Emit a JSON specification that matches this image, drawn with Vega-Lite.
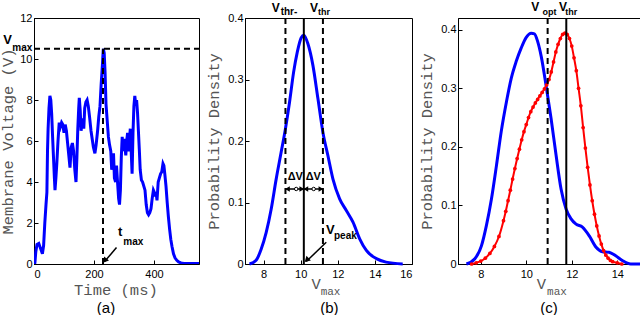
{
  "$schema": "https://vega.github.io/schema/vega-lite/v6.json",
  "padding": {"left": 0, "top": 0, "right": 0, "bottom": 0},
  "bounds": "flush",
  "spacing": 46,
  "config": {
    "view": {"stroke": "#000", "strokeWidth": 1},
    "axis": {"grid": false, "tickSize": -4, "tickColor": "#000", "domainColor": "#000", "labelFont": "Liberation Sans", "labelFontSize": 11, "labelColor": "#000", "titleFont": "Liberation Mono", "titleFontSize": 15.5, "titleFontWeight": "normal", "titleColor": "#555", "labelPadding": 6, "format": "~g"},
    "axisX": {"labelPadding": 8},
    "text": {"font": "Liberation Sans", "color": "#000"}
  },
  "hconcat": [
    {
      "width": 165, "height": 246,
      "data": {"values": [{}]},
      "layer": [
        {
          "data": {"values": [
            {"t":0,"v":0},{"t":3,"v":0.05},{"t":6,"v":0.6},{"t":10,"v":0.95},{"t":16,"v":1.0},{"t":22,"v":0.75},{"t":28,"v":0.5},{"t":32,"v":0.9},{"t":36,"v":2.0},{"t":40,"v":2.9},{"t":43,"v":3.5},{"t":45,"v":5.5},{"t":47,"v":6.6},{"t":50,"v":7.6},{"t":53,"v":8.2},{"t":56,"v":8.0},{"t":59,"v":7.3},{"t":62,"v":6.2},{"t":65,"v":5.2},{"t":68,"v":4.2},{"t":70,"v":3.6},{"t":73,"v":4.2},{"t":76,"v":4.9},{"t":80,"v":6.0},{"t":84,"v":6.9},{"t":88,"v":6.7},{"t":92,"v":6.9},{"t":96,"v":6.8},{"t":100,"v":6.4},{"t":104,"v":6.8},{"t":108,"v":6.5},{"t":112,"v":5.9},{"t":116,"v":5.3},{"t":120,"v":4.7},{"t":124,"v":5.7},{"t":128,"v":5.9},{"t":132,"v":5.5},{"t":136,"v":4.6},{"t":140,"v":4.0},{"t":143,"v":5.2},{"t":146,"v":6.6},{"t":149,"v":7.6},{"t":151,"v":8.1},{"t":154,"v":7.5},{"t":157,"v":6.5},{"t":160,"v":6.9},{"t":163,"v":7.1},{"t":166,"v":6.6},{"t":169,"v":7.6},{"t":173,"v":7.9},{"t":177,"v":8.0},{"t":181,"v":7.7},{"t":185,"v":7.2},{"t":190,"v":6.5},{"t":194,"v":6.1},{"t":198,"v":5.7},{"t":203,"v":5.4},{"t":207,"v":5.8},{"t":212,"v":6.5},{"t":216,"v":7.2},{"t":220,"v":7.7},{"t":224,"v":8.8},{"t":228,"v":9.7},{"t":231,"v":10.5},{"t":234,"v":10.3},{"t":237,"v":9.3},{"t":240,"v":7.8},{"t":244,"v":7.0},{"t":248,"v":6.2},{"t":252,"v":5.8},{"t":256,"v":5.5},{"t":259,"v":4.6},{"t":262,"v":4.9},{"t":265,"v":5.4},{"t":268,"v":4.2},{"t":272,"v":4.0},{"t":275,"v":4.8},{"t":278,"v":4.1},{"t":282,"v":3.2},{"t":285,"v":2.9},{"t":288,"v":3.6},{"t":291,"v":5.2},{"t":294,"v":6.2},{"t":297,"v":5.5},{"t":300,"v":6.1},{"t":303,"v":5.7},{"t":306,"v":5.3},{"t":309,"v":6.0},{"t":312,"v":6.4},{"t":315,"v":5.5},{"t":318,"v":6.0},{"t":321,"v":6.6},{"t":324,"v":5.5},{"t":327,"v":4.4},{"t":330,"v":6.4},{"t":333,"v":7.7},{"t":336,"v":8.2},{"t":339,"v":7.8},{"t":342,"v":8.0},{"t":345,"v":7.4},{"t":348,"v":6.5},{"t":351,"v":5.6},{"t":354,"v":4.6},{"t":358,"v":4.1},{"t":362,"v":4.0},{"t":366,"v":3.8},{"t":370,"v":3.6},{"t":374,"v":2.9},{"t":378,"v":2.5},{"t":382,"v":2.4},{"t":386,"v":2.5},{"t":390,"v":2.7},{"t":394,"v":3.2},{"t":398,"v":3.6},{"t":401,"v":3.5},{"t":404,"v":3.3},{"t":407,"v":3.5},{"t":410,"v":3.1},{"t":414,"v":4.0},{"t":418,"v":4.2},{"t":422,"v":4.4},{"t":426,"v":4.5},{"t":430,"v":4.9},{"t":433,"v":4.8},{"t":436,"v":4.4},{"t":440,"v":3.8},{"t":444,"v":3.0},{"t":448,"v":2.3},{"t":452,"v":1.7},{"t":456,"v":1.2},{"t":460,"v":0.85},{"t":465,"v":0.5},{"t":470,"v":0.3},{"t":476,"v":0.18},{"t":482,"v":0.1},{"t":490,"v":0.05},{"t":500,"v":0.03},{"t":520,"v":0.02},{"t":550,"v":0.02}
          ]},
          "mark": {"type": "line", "color": "#0000ff", "strokeWidth": 3, "clip": true},
          "encoding": {
            "x": {"field": "t", "type": "quantitative", "scale": {"domain": [0, 550], "nice": false}, "axis": {"values": [0, 200, 400], "format": "d", "title": null}},
            "y": {"field": "v", "type": "quantitative", "scale": {"domain": [0, 12], "nice": false}, "axis": {"values": [0, 2, 4, 6, 8, 10, 12], "format": "d", "title": "Membrane Voltage (V)", "titlePadding": 4}}
          }
        },
        {"mark": {"type": "rule", "strokeDash": [6, 4], "strokeWidth": 2, "color": "#000"}, "encoding": {"x": {"datum": 0}, "x2": {"datum": 550}, "y": {"datum": 10.5}}},
        {"mark": {"type": "rule", "strokeDash": [6, 4], "strokeWidth": 2, "color": "#000"}, "encoding": {"x": {"datum": 230}, "y": {"datum": 0}, "y2": {"datum": 10.5}}},
        {"mark": {"type": "rule", "strokeWidth": 1.5, "color": "#000"}, "encoding": {"x": {"datum": 275}, "y": {"datum": 0.8}, "x2": {"datum": 236}, "y2": {"datum": 0.13}}},
        {"mark": {"type": "point", "shape": "triangle", "angle": 220, "filled": true, "color": "#000", "size": 40, "opacity": 1}, "encoding": {"x": {"datum": 238}, "y": {"datum": 0.2}}},
        {"mark": {"type": "text", "text": "t", "fontSize": 13, "fontWeight": "bold"}, "encoding": {"x": {"datum": 287}, "y": {"datum": 1.55}}},
        {"mark": {"type": "text", "text": "max", "fontSize": 10, "fontWeight": "bold"}, "encoding": {"x": {"datum": 331}, "y": {"datum": 1.07}}},
        {"mark": {"type": "text", "text": "V", "fontSize": 13, "fontWeight": "bold"}, "encoding": {"x": {"datum": -87.7}, "y": {"datum": 10.93}}},
        {"mark": {"type": "text", "text": "max", "fontSize": 10, "fontWeight": "bold"}, "encoding": {"x": {"datum": -39}, "y": {"datum": 10.54}}},
        {"mark": {"type": "text", "text": "Time (ms)", "font": "Liberation Mono", "fontSize": 15.5, "color": "#555", "dy": 26}, "encoding": {"x": {"datum": 273}, "y": {"datum": 0}}},
        {"mark": {"type": "text", "text": "(a)", "fontSize": 15, "dy": 44}, "encoding": {"x": {"datum": 240}, "y": {"datum": 0}}}
      ]
    },
    {
      "width": 167, "height": 246,
      "data": {"values": [{}]},
      "layer": [
        {
          "data": {"values": [
            {"x":7.24,"d":0},{"x":7.6,"d":0.006},{"x":7.87,"d":0.024},{"x":8.14,"d":0.051},{"x":8.41,"d":0.089},{"x":8.68,"d":0.138},{"x":8.95,"d":0.182},{"x":9.18,"d":0.22},{"x":9.4,"d":0.263},{"x":9.62,"d":0.312},{"x":9.82,"d":0.345},{"x":10.03,"d":0.368},{"x":10.17,"d":0.372},{"x":10.39,"d":0.358},{"x":10.66,"d":0.323},{"x":10.93,"d":0.269},{"x":11.2,"d":0.214},{"x":11.47,"d":0.176},{"x":11.74,"d":0.138},{"x":12.1,"d":0.106},{"x":12.46,"d":0.087},{"x":12.82,"d":0.068},{"x":13.18,"d":0.041},{"x":13.54,"d":0.022},{"x":14.08,"d":0.0087},{"x":14.6,"d":0.003},{"x":15.5,"d":0}
          ]},
          "mark": {"type": "line", "color": "#0000ff", "strokeWidth": 3, "interpolate": "monotone"},
          "encoding": {
            "x": {"field": "x", "type": "quantitative", "scale": {"domain": [7, 16], "nice": false}, "axis": {"values": [8, 10, 12, 14, 16], "title": null}},
            "y": {"field": "d", "type": "quantitative", "scale": {"domain": [0, 0.4], "nice": false}, "axis": {"values": [0, 0.05, 0.1, 0.15, 0.2, 0.25, 0.3, 0.35, 0.4], "title": "Probability Density", "titlePadding": 6}}
          }
        },
        {"mark": {"type": "rule", "strokeDash": [6, 4], "strokeWidth": 2, "color": "#000"}, "encoding": {"x": {"datum": 9.18}}},
        {"mark": {"type": "rule", "strokeDash": [6, 4], "strokeWidth": 2, "color": "#000"}, "encoding": {"x": {"datum": 11.2}}},
        {"mark": {"type": "rule", "strokeWidth": 2, "color": "#000"}, "encoding": {"x": {"datum": 10.17}}},
        {"mark": {"type": "rule", "strokeWidth": 1.5, "color": "#000"}, "encoding": {"x": {"datum": 9.18}, "x2": {"datum": 11.2}, "y": {"datum": 0.122}}},
        {"mark": {"type": "point", "shape": "triangle", "angle": 270, "filled": true, "color": "#000", "size": 30, "opacity": 1}, "encoding": {"x": {"datum": 9.33}, "y": {"datum": 0.122}}},
        {"mark": {"type": "point", "shape": "triangle", "angle": 90, "filled": true, "color": "#000", "size": 30, "opacity": 1}, "encoding": {"x": {"datum": 10.02}, "y": {"datum": 0.122}}},
        {"mark": {"type": "point", "shape": "triangle", "angle": 270, "filled": true, "color": "#000", "size": 30, "opacity": 1}, "encoding": {"x": {"datum": 10.32}, "y": {"datum": 0.122}}},
        {"mark": {"type": "point", "shape": "triangle", "angle": 90, "filled": true, "color": "#000", "size": 30, "opacity": 1}, "encoding": {"x": {"datum": 11.05}, "y": {"datum": 0.122}}},
        {"mark": {"type": "point", "shape": "circle", "filled": true, "fill": "#fff", "stroke": "#000", "strokeWidth": 1, "size": 12, "opacity": 1}, "encoding": {"x": {"datum": 9.76}, "y": {"datum": 0.122}}},
        {"mark": {"type": "point", "shape": "circle", "filled": true, "fill": "#fff", "stroke": "#000", "strokeWidth": 1, "size": 12, "opacity": 1}, "encoding": {"x": {"datum": 10.7}, "y": {"datum": 0.122}}},
        {"mark": {"type": "text", "text": "ΔV", "fontSize": 11, "fontWeight": "bold"}, "encoding": {"x": {"datum": 9.71}, "y": {"datum": 0.141}}},
        {"mark": {"type": "text", "text": "ΔV", "fontSize": 11, "fontWeight": "bold"}, "encoding": {"x": {"datum": 10.68}, "y": {"datum": 0.141}}},
        {"mark": {"type": "rule", "strokeWidth": 1.5, "color": "#000"}, "encoding": {"x": {"datum": 11.38}, "y": {"datum": 0.0353}, "x2": {"datum": 10.3}, "y2": {"datum": 0.004}}},
        {"mark": {"type": "point", "shape": "triangle", "angle": 226, "filled": true, "color": "#000", "size": 40, "opacity": 1}, "encoding": {"x": {"datum": 10.36}, "y": {"datum": 0.0075}}},
        {"mark": {"type": "text", "text": "V", "fontSize": 13, "fontWeight": "bold"}, "encoding": {"x": {"datum": 11.6}, "y": {"datum": 0.0557}}},
        {"mark": {"type": "text", "text": "peak", "fontSize": 10, "fontWeight": "bold"}, "encoding": {"x": {"datum": 12.41}, "y": {"datum": 0.0456}}},
        {"mark": {"type": "text", "text": "V", "fontSize": 12, "fontWeight": "bold"}, "encoding": {"x": {"datum": 8.66}, "y": {"datum": 0.4168}}},
        {"mark": {"type": "text", "text": "thr-", "fontSize": 10, "fontWeight": "bold"}, "encoding": {"x": {"datum": 9.37}, "y": {"datum": 0.41}}},
        {"mark": {"type": "text", "text": "V", "fontSize": 12, "fontWeight": "bold"}, "encoding": {"x": {"datum": 10.72}, "y": {"datum": 0.4168}}},
        {"mark": {"type": "text", "text": "thr", "fontSize": 9, "fontWeight": "bold"}, "encoding": {"x": {"datum": 11.26}, "y": {"datum": 0.41}}},
        {"mark": {"type": "text", "text": "V", "font": "Liberation Mono", "fontSize": 15.5, "color": "#555", "dy": 20}, "encoding": {"x": {"datum": 10.83}, "y": {"datum": 0}}},
        {"mark": {"type": "text", "text": "max", "font": "Liberation Mono", "fontSize": 11, "color": "#555", "dy": 27.5}, "encoding": {"x": {"datum": 11.61}, "y": {"datum": 0}}},
        {"mark": {"type": "text", "text": "(b)", "fontSize": 15, "dy": 44}, "encoding": {"x": {"datum": 11.55}, "y": {"datum": 0}}}
      ]
    },
    {
      "width": 182, "height": 246,
      "data": {"values": [{}]},
      "layer": [
        {
          "data": {"values": [
            {"x":7.37,"d":0},{"x":7.74,"d":0.009},{"x":8.03,"d":0.031},{"x":8.25,"d":0.066},{"x":8.47,"d":0.111},{"x":8.69,"d":0.168},{"x":8.9,"d":0.226},{"x":9.13,"d":0.277},{"x":9.34,"d":0.317},{"x":9.56,"d":0.346},{"x":9.78,"d":0.369},{"x":10.0,"d":0.387},{"x":10.22,"d":0.394},{"x":10.36,"d":0.393},{"x":10.5,"d":0.38},{"x":10.66,"d":0.354},{"x":10.87,"d":0.305},{"x":11.09,"d":0.249},{"x":11.31,"d":0.186},{"x":11.53,"d":0.128},{"x":11.75,"d":0.094},{"x":11.97,"d":0.077},{"x":12.19,"d":0.068},{"x":12.47,"d":0.063},{"x":12.77,"d":0.048},{"x":13.06,"d":0.029},{"x":13.35,"d":0.021},{"x":13.64,"d":0.02},{"x":13.93,"d":0.014},{"x":14.22,"d":0.006},{"x":14.59,"d":0},{"x":15,"d":0}
          ]},
          "mark": {"type": "line", "color": "#0000ff", "strokeWidth": 3, "interpolate": "monotone"},
          "encoding": {
            "x": {"field": "x", "type": "quantitative", "scale": {"domain": [7, 15], "nice": false}, "axis": {"values": [8, 10, 12, 14], "title": null}},
            "y": {"field": "d", "type": "quantitative", "scale": {"domain": [0, 0.42], "nice": false}, "axis": {"values": [0, 0.05, 0.1, 0.15, 0.2, 0.25, 0.3, 0.35, 0.4], "title": "Probability Density", "titlePadding": 6}}
          }
        },
        {
          "data": {"values": [
            {"x":7.6,"d":0},{"x":7.8,"d":0.002},{"x":8.0,"d":0.005},{"x":8.2,"d":0.01},{"x":8.4,"d":0.018},{"x":8.6,"d":0.03},{"x":8.8,"d":0.047},{"x":9.0,"d":0.074},{"x":9.1,"d":0.09},{"x":9.2,"d":0.108},{"x":9.3,"d":0.126},{"x":9.4,"d":0.145},{"x":9.5,"d":0.163},{"x":9.6,"d":0.18},{"x":9.7,"d":0.196},{"x":9.8,"d":0.212},{"x":9.9,"d":0.226},{"x":10.0,"d":0.238},{"x":10.1,"d":0.25},{"x":10.2,"d":0.26},{"x":10.3,"d":0.268},{"x":10.4,"d":0.275},{"x":10.5,"d":0.281},{"x":10.6,"d":0.287},{"x":10.7,"d":0.293},{"x":10.8,"d":0.299},{"x":10.9,"d":0.306},{"x":11.0,"d":0.315},{"x":11.1,"d":0.328},{"x":11.2,"d":0.345},{"x":11.3,"d":0.362},{"x":11.4,"d":0.375},{"x":11.5,"d":0.385},{"x":11.6,"d":0.392},{"x":11.7,"d":0.394},{"x":11.8,"d":0.392},{"x":11.9,"d":0.385},{"x":12.0,"d":0.372},{"x":12.1,"d":0.352},{"x":12.2,"d":0.33},{"x":12.3,"d":0.3},{"x":12.4,"d":0.27},{"x":12.5,"d":0.233},{"x":12.6,"d":0.198},{"x":12.7,"d":0.165},{"x":12.8,"d":0.135},{"x":12.9,"d":0.108},{"x":13.0,"d":0.085},{"x":13.1,"d":0.065},{"x":13.2,"d":0.048},{"x":13.3,"d":0.034},{"x":13.4,"d":0.023},{"x":13.5,"d":0.015},{"x":13.6,"d":0.01},{"x":13.7,"d":0.006},{"x":13.8,"d":0.004},{"x":14.0,"d":0.002},{"x":14.2,"d":0}
          ]},
          "mark": {"type": "line", "color": "#ff0000", "strokeWidth": 2, "interpolate": "monotone", "point": {"filled": true, "color": "#ff0000", "size": 14, "opacity": 1}},
          "encoding": {
            "x": {"field": "x", "type": "quantitative"},
            "y": {"field": "d", "type": "quantitative"}
          }
        },
        {"mark": {"type": "rule", "strokeDash": [6, 4], "strokeWidth": 2, "color": "#000"}, "encoding": {"x": {"datum": 10.94}}},
        {"mark": {"type": "rule", "strokeWidth": 2, "color": "#000"}, "encoding": {"x": {"datum": 11.76}}},
        {"mark": {"type": "text", "text": "V", "fontSize": 12, "fontWeight": "bold"}, "encoding": {"x": {"datum": 10.4}, "y": {"datum": 0.4396}}},
        {"mark": {"type": "text", "text": "opt", "fontSize": 9, "fontWeight": "bold"}, "encoding": {"x": {"datum": 11.02}, "y": {"datum": 0.4297}}},
        {"mark": {"type": "text", "text": "V", "fontSize": 12, "fontWeight": "bold"}, "encoding": {"x": {"datum": 11.62}, "y": {"datum": 0.4396}}},
        {"mark": {"type": "text", "text": "thr", "fontSize": 9, "fontWeight": "bold"}, "encoding": {"x": {"datum": 11.98}, "y": {"datum": 0.4297}}},
        {"mark": {"type": "text", "text": "V", "font": "Liberation Mono", "fontSize": 15.5, "color": "#555", "dy": 20}, "encoding": {"x": {"datum": 10.67}, "y": {"datum": 0}}},
        {"mark": {"type": "text", "text": "max", "font": "Liberation Mono", "fontSize": 11, "color": "#555", "dy": 27.5}, "encoding": {"x": {"datum": 11.35}, "y": {"datum": 0}}},
        {"mark": {"type": "text", "text": "(c)", "fontSize": 15, "dy": 44}, "encoding": {"x": {"datum": 11.0}, "y": {"datum": 0}}}
      ]
    }
  ]
}
